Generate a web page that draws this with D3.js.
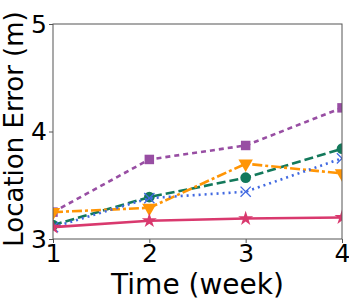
<!DOCTYPE html>
<html>
<head>
<meta charset="utf-8">
<script src="https://cdn.jsdelivr.net/npm/d3@7"></script>
<style>
  body { margin: 0; background: #fff; }
  svg { font-family: "DejaVu Sans", sans-serif; }
</style>
</head>
<body>
<svg id="chart" width="349" height="300"></svg>
<script>
const weeks = [1, 2, 3, 4];
const purpleSquare = [3.25, 3.74, 3.87, 4.22];
const greenCircle = [3.13, 3.39, 3.57, 3.84];
const orangeTriangle = [3.25, 3.29, 3.70, 3.61];
const blueCross = [3.11, 3.38, 3.44, 3.75];
const pinkStar = [3.11, 3.17, 3.19, 3.20];
const xTicks = [1, 2, 3, 4];
const yTicks = [3, 4, 5];

const series = [
  { values: purpleSquare, color: "#984ea3", dash: "5,4", symbol: d3.symbolSquare, size: 90 },
  { values: greenCircle, color: "#13795b", dash: "9,4", symbol: d3.symbolCircle, size: 90 },
  { values: orangeTriangle, color: "#ff9505", dash: "10,3,3,3", symbol: "tri", size: 90 },
  { values: blueCross, color: "#4169e1", dash: "2,4", symbol: d3.symbolTimes, size: 70 },
  { values: pinkStar, color: "#d9396e", dash: null, symbol: d3.symbolStar, size: 70 },
];

const margin = { left: 53, right: 7, top: 24, bottom: 61 };
const width = 349, height = 300;
const svg = d3.select("#chart");

const x = d3.scaleLinear().domain([1, 4]).range([margin.left, width - margin.right]);
const y = d3.scaleLinear().domain([3, 5]).range([height - margin.bottom, margin.top]);

svg.append("defs").append("clipPath").attr("id", "clip")
  .append("rect")
  .attr("x", margin.left).attr("y", margin.top)
  .attr("width", x(4) - x(1)).attr("height", y(3) - y(5));

const plot = svg.append("g").attr("clip-path", "url(#clip)");

const line = d3.line().x((d, i) => x(weeks[i])).y((d) => y(d));

series.forEach((s) => {
  plot.append("path")
    .datum(s.values)
    .attr("fill", "none")
    .attr("stroke", s.color)
    .attr("stroke-width", 2.6)
    .attr("stroke-dasharray", s.dash)
    .attr("d", line);

  const g = plot.append("g");
  s.values.forEach((v, i) => {
    const px = x(weeks[i]), py = y(v);
    if (s.symbol === "tri") {
      g.append("path")
        .attr("d", d3.symbol(d3.symbolTriangle, s.size)())
        .attr("transform", `translate(${px},${py}) rotate(180)`)
        .attr("fill", s.color);
    } else if (s.symbol === d3.symbolTimes) {
      g.append("path")
        .attr("d", d3.symbol(d3.symbolTimes, s.size)())
        .attr("transform", `translate(${px},${py})`)
        .attr("fill", "none")
        .attr("stroke", s.color)
        .attr("stroke-width", 1.3);
    } else {
      g.append("path")
        .attr("d", d3.symbol(s.symbol, s.size)())
        .attr("transform", `translate(${px},${py})`)
        .attr("fill", s.color);
    }
  });
});

// frame
svg.append("rect")
  .attr("x", margin.left).attr("y", margin.top)
  .attr("width", x(4) - x(1)).attr("height", y(3) - y(5))
  .attr("fill", "none").attr("stroke", "#555").attr("stroke-width", 1);

const xAxis = svg.append("g")
  .attr("transform", `translate(0,${y(3)})`)
  .call(d3.axisBottom(x).tickValues(xTicks).tickFormat(d3.format("d")).tickSize(4).tickPadding(1));
const yAxis = svg.append("g")
  .attr("transform", `translate(${margin.left},0)`)
  .call(d3.axisLeft(y).tickValues(yTicks).tickFormat(d3.format("d")).tickSize(4).tickPadding(2));

[xAxis, yAxis].forEach((a) => {
  a.select(".domain").remove();
  a.selectAll(".tick line").attr("stroke", "#555");
  a.selectAll(".tick text")
    .attr("font-family", "DejaVu Sans")
    .attr("font-size", 25)
    .attr("fill", "#000");
});

svg.append("text")
  .attr("x", (x(1) + x(4)) / 2)
  .attr("y", 294)
  .attr("text-anchor", "middle")
  .attr("font-size", 28)
  .attr("fill", "#000")
  .text("Time (week)");

svg.append("text")
  .attr("transform", `translate(23,129) rotate(-90)`)
  .attr("text-anchor", "middle")
  .attr("font-size", 26)
  .attr("fill", "#000")
  .text("Location Error (m)");
</script>
</body>
</html>
